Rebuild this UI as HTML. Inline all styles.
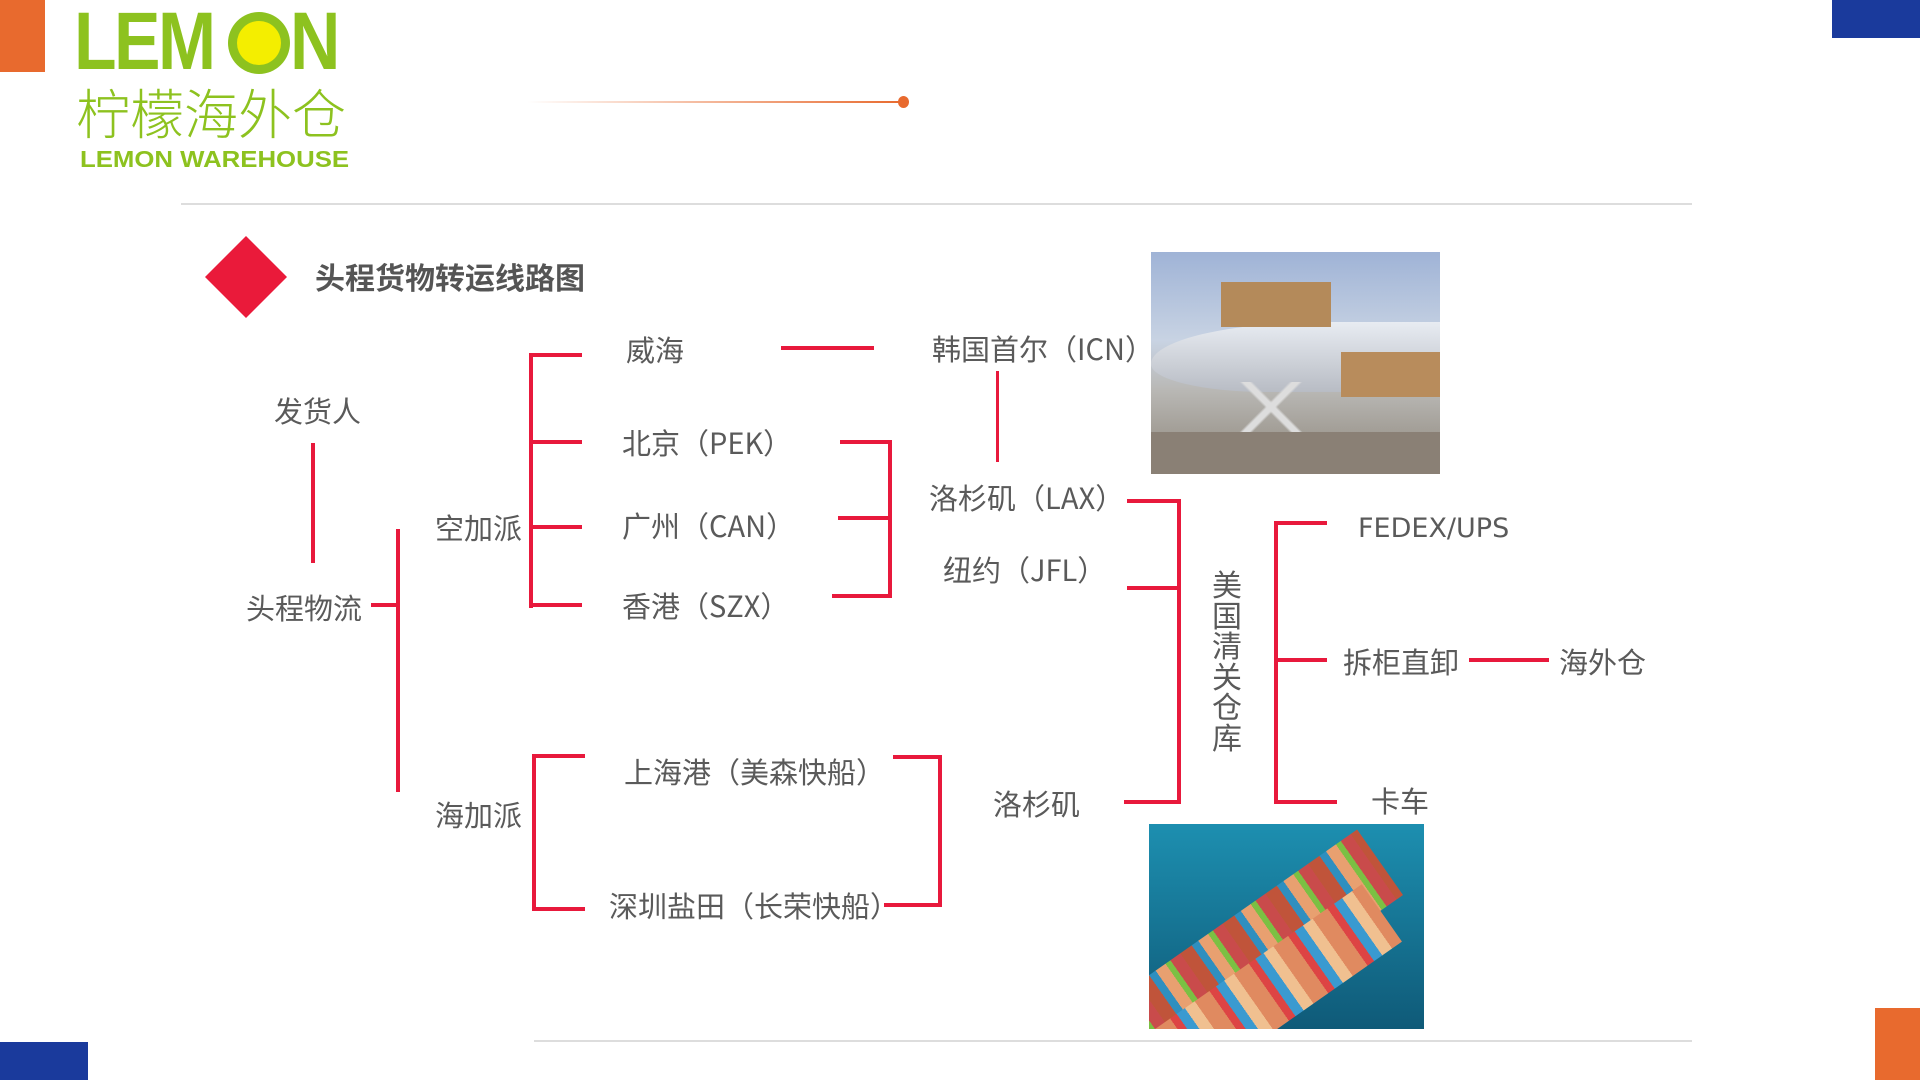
<!DOCTYPE html>
<html><head><meta charset="utf-8"><style>
*{margin:0;padding:0;box-sizing:border-box}
body{width:1920px;height:1080px;position:relative;background:#fff;overflow:hidden;font-family:"Liberation Sans","Noto Sans CJK SC",sans-serif}
.a{position:absolute}
.t{position:absolute;font-size:29px;color:#5a5a5a;line-height:34px;white-space:nowrap;font-family:"Noto Sans CJK SC","Liberation Sans",sans-serif}
.r{position:absolute;background:#e8193c}
</style></head><body>
<div class="a" style="left:0;top:0;width:45px;height:72px;background:#e86a2e"></div>
<div class="a" style="left:1832px;top:0;width:88px;height:38px;background:#1a3a9c"></div>
<div class="a" style="left:0;top:1042px;width:88px;height:38px;background:#1a3a9c"></div>
<div class="a" style="left:1875px;top:1008px;width:45px;height:72px;background:#e86a2e"></div>

<!-- logo -->
<div class="a" style="left:74px;top:2px;font-size:82px;font-weight:bold;color:#8dc21f;line-height:80px;letter-spacing:-3px;transform:scaleX(0.85);transform-origin:left">LEM</div>
<div class="a" style="left:228px;top:12px;width:62px;height:62px;border-radius:50%;background:#8dc21f"></div>
<div class="a" style="left:237px;top:21px;width:44px;height:44px;border-radius:50%;background:#f4ee00"></div>
<div class="a" style="left:290px;top:2px;font-size:82px;font-weight:bold;color:#8dc21f;line-height:80px;transform:scaleX(0.85);transform-origin:left">N</div>
<div class="a" style="left:76px;top:80px;font-size:54px;color:#8dc21f;line-height:62px;font-family:'Noto Sans CJK SC',sans-serif;font-weight:300">柠檬海外仓</div>
<div class="a" style="left:80px;top:147px;font-size:23px;font-weight:bold;color:#8dc21f;line-height:24px;transform:scaleX(1.12);transform-origin:left">LEMON WAREHOUSE</div>

<div class="a" style="left:527px;top:101px;width:377px;height:2px;background:linear-gradient(90deg,rgba(232,106,46,0),#e86a2e)"></div>
<div class="a" style="left:898px;top:96px;width:11px;height:12px;border-radius:50%;background:#e86a2e"></div>
<div class="a" style="left:181px;top:203px;width:1511px;height:2px;background:#ddd"></div>
<div class="a" style="left:534px;top:1040px;width:1158px;height:2px;background:#ddd"></div>

<div class="a" style="left:217px;top:248px;width:58px;height:58px;background:#ea1a3a;transform:rotate(45deg)"></div>
<div class="a" style="left:315px;top:257px;font-size:30px;font-weight:bold;color:#555;line-height:38px;font-family:'Noto Sans CJK SC',sans-serif">头程货物转运线路图</div>

<!-- photos -->
<div class="a" style="left:1151px;top:252px;width:289px;height:222px;background:linear-gradient(180deg,#9fb3d6 0%,#c8d3e3 40%,#b9b8b5 62%,#8c8478 100%);overflow:hidden">
 <div class="a" style="left:0;top:70px;width:289px;height:70px;background:linear-gradient(180deg,#e8ecf2,#b8bcc4);border-radius:60% 0 0 40%"></div>
 <div class="a" style="left:70px;top:30px;width:110px;height:45px;background:#b48a5a"></div>
 <div class="a" style="left:190px;top:100px;width:100px;height:45px;background:#b88c5c"></div>
 <div class="a" style="left:60px;top:130px;width:120px;height:50px;background:linear-gradient(45deg,transparent 46%,#ddd 48%,#ddd 52%,transparent 54%),linear-gradient(-45deg,transparent 46%,#ddd 48%,#ddd 52%,transparent 54%)"></div>
 <div class="a" style="left:0;top:180px;width:289px;height:42px;background:#8a8075"></div>
</div>
<div class="a" style="left:1149px;top:824px;width:275px;height:205px;background:linear-gradient(180deg,#1d8fb0,#0f5a78);overflow:hidden">
 <div class="a" style="left:-60px;top:90px;width:320px;height:80px;background:repeating-linear-gradient(90deg,#c0543a 0 14px,#2f8fbf 14px 22px,#e8a070 22px 34px,#7bc043 34px 40px,#c94b4b 40px 52px);transform:rotate(-35deg)"></div>
 <div class="a" style="left:-40px;top:140px;width:300px;height:70px;background:repeating-linear-gradient(90deg,#e08a60 0 18px,#d44 18px 26px,#3a9ad0 26px 36px,#f0c090 36px 48px);transform:rotate(-35deg)"></div>
</div>

<!-- labels -->
<div class="t" style="left:274px;top:393px">发货人</div>
<div class="t" style="left:246px;top:590px">头程物流</div>
<div class="t" style="left:435px;top:510px">空加派</div>
<div class="t" style="left:435px;top:797px">海加派</div>
<div class="t" style="left:626px;top:332px">威海</div>
<div class="t" style="left:622px;top:425px">北京（PEK）</div>
<div class="t" style="left:622px;top:508px">广州（CAN）</div>
<div class="t" style="left:622px;top:588px">香港（SZX）</div>
<div class="t" style="left:624px;top:754px">上海港（美森快船）</div>
<div class="t" style="left:609px;top:888px">深圳盐田（长荣快船）</div>
<div class="t" style="left:932px;top:331px">韩国首尔（ICN）</div>
<div class="t" style="left:929px;top:480px">洛杉矶（LAX）</div>
<div class="t" style="left:943px;top:552px">纽约（JFL）</div>
<div class="t" style="left:993px;top:786px">洛杉矶</div>
<div class="t" style="left:1212px;top:568px;width:32px;line-height:30.5px;white-space:normal;font-size:30px">美国清关仓库</div>
<div class="t" style="left:1358px;top:512px;font-family:'DejaVu Sans',sans-serif;font-size:27px">FEDEX/UPS</div>
<div class="t" style="left:1343px;top:644px">拆柜直卸</div>
<div class="t" style="left:1559px;top:644px">海外仓</div>
<div class="t" style="left:1371px;top:783px">卡车</div>

<!-- lines -->
<div class="r" style="left:311px;top:443px;width:4px;height:120px"></div>
<div class="r" style="left:371px;top:603px;width:29px;height:4px"></div>
<div class="r" style="left:396px;top:529px;width:4px;height:263px"></div>

<div class="r" style="left:529px;top:353px;width:4px;height:255px"></div>
<div class="r" style="left:529px;top:353px;width:53px;height:4px"></div>
<div class="r" style="left:529px;top:440px;width:53px;height:4px"></div>
<div class="r" style="left:529px;top:525px;width:53px;height:4px"></div>
<div class="r" style="left:529px;top:603px;width:53px;height:4px"></div>

<div class="r" style="left:840px;top:440px;width:52px;height:4px"></div>
<div class="r" style="left:838px;top:516px;width:54px;height:4px"></div>
<div class="r" style="left:832px;top:594px;width:60px;height:4px"></div>
<div class="r" style="left:888px;top:440px;width:4px;height:158px"></div>

<div class="r" style="left:781px;top:346px;width:93px;height:4px"></div>
<div class="r" style="left:996px;top:371px;width:3px;height:91px"></div>

<div class="r" style="left:1127px;top:499px;width:54px;height:4px"></div>
<div class="r" style="left:1127px;top:586px;width:54px;height:4px"></div>
<div class="r" style="left:1124px;top:800px;width:57px;height:4px"></div>
<div class="r" style="left:1177px;top:499px;width:4px;height:305px"></div>

<div class="r" style="left:532px;top:754px;width:4px;height:157px"></div>
<div class="r" style="left:532px;top:754px;width:53px;height:4px"></div>
<div class="r" style="left:532px;top:907px;width:53px;height:4px"></div>

<div class="r" style="left:893px;top:755px;width:49px;height:4px"></div>
<div class="r" style="left:938px;top:755px;width:4px;height:152px"></div>
<div class="r" style="left:884px;top:903px;width:58px;height:4px"></div>

<div class="r" style="left:1274px;top:521px;width:4px;height:283px"></div>
<div class="r" style="left:1274px;top:521px;width:53px;height:4px"></div>
<div class="r" style="left:1274px;top:658px;width:53px;height:4px"></div>
<div class="r" style="left:1274px;top:800px;width:63px;height:4px"></div>
<div class="r" style="left:1469px;top:658px;width:80px;height:4px"></div>
</body></html>
